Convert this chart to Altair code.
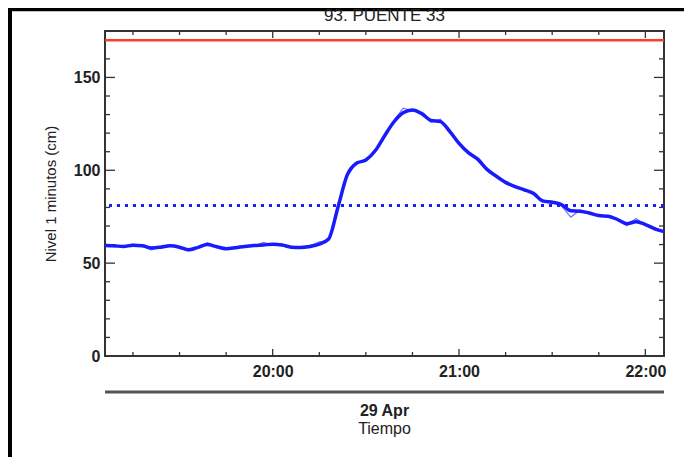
import altair as alt
import pandas as pd

# ---- data (3-minute samples from 19:06) ----
level = [59.5, 59.3, 59.0, 59.6, 59.4, 58.2, 58.6, 59.3, 58.6, 57.2,
         58.5, 60.0, 58.8, 57.8, 58.3, 59.0, 59.5, 59.8, 60.2, 59.8,
         58.6, 58.4, 59.0, 60.3, 63.0, 80.0, 97.5, 103.8, 105.5, 110.5,
         118.5, 126.0, 131.0, 132.5, 130.5, 126.8, 126.2, 121.0, 114.5, 109.5,
         106.0, 100.5, 96.8, 93.5, 91.2, 89.5, 87.5, 83.5, 82.8, 81.5,
         78.2, 78.0, 77.0, 75.6, 75.3, 73.5, 71.2, 72.3, 70.8, 68.5, 67.0]
raw = [60.0, 58.8, 59.4, 60.2, 59.0, 57.2, 59.0, 59.8, 58.0, 56.6,
       58.9, 61.0, 58.4, 57.3, 58.8, 59.5, 59.0, 61.2, 59.7, 60.3,
       58.0, 58.9, 59.5, 61.5, 62.2, 81.5, 96.5, 104.5, 105.0, 111.2,
       118.0, 126.8, 133.5, 132.0, 131.2, 126.0, 127.5, 120.2, 115.2, 109.0,
       106.8, 100.0, 97.4, 92.8, 91.8, 89.0, 88.2, 83.0, 83.4, 80.8,
       74.8, 78.6, 76.4, 76.2, 74.8, 74.0, 70.2, 74.0, 70.3, 69.2, 66.8]
upper_level = [170]
alert_level = [81]

title_text = "93. PUENTE 33"
y_title = "Nivel 1 minutos (cm)"
date_text = "29 Apr"
x_title = "Tiempo"

y_major = [0, 50, 100, 150]
y_minor = [10, 20, 30, 40, 60, 70, 80, 90, 110, 120, 130, 140, 160, 170]
x_major = ["20:00", "21:00", "22:00"]
x_minor = ["19:15", "19:30", "19:45", "20:15", "20:30", "20:45",
           "21:15", "21:30", "21:45"]
day = "2024-04-29"

times = pd.date_range(f"{day} 19:06", periods=len(level), freq="3min").strftime("%Y-%m-%dT%H:%M:%S")
df = pd.DataFrame({"t": list(times), "smooth": level, "raw": raw})

W, H = 559, 325
AX = "#333333"
FONT = "Liberation Sans"

def dt(h, m=0):
    return alt.DateTime(year=2024, month=4, date=29, hours=h, minutes=m)

x_scale = alt.Scale(domain=[dt(19, 6), dt(22, 6)])
y_scale = alt.Scale(domain=[0, 175], nice=False, zero=False)

x_axis = alt.Axis(values=[dt(20), dt(21), dt(22)], format="%H:%M", ticks=False,
                  domain=False, grid=False, labelPadding=7, labelFontSize=16,
                  labelFontWeight="bold", labelColor="#222", labelFont=FONT,
                  labelFlush=False, title=None)
y_axis = alt.Axis(values=y_major, ticks=False, domain=False, grid=False,
                  labelPadding=5, labelFontSize=16, labelFontWeight="bold",
                  labelColor="#222", labelFont=FONT, title=y_title,
                  titleFontSize=15, titleFontWeight="normal", titleColor="#222",
                  titleFont=FONT, titleX=-55, titleY=H / 2, titleAngle=-90,
                  titleAlign="center", titleBaseline="middle")

X = alt.X("t:T", scale=x_scale, axis=x_axis)
Y = lambda f: alt.Y(f"{f}:Q", scale=y_scale, axis=y_axis)

def iso(hm):
    return [f"{day}T{v}:00" for v in hm]

def xticks(vals, y0, y1):
    return alt.Chart(pd.DataFrame({"t": iso(vals)})).mark_rule(
        color=AX, strokeWidth=1.3).encode(x=X, y=alt.value(y0), y2=alt.value(y1))

def yticks(vals, x0, x1):
    return alt.Chart(pd.DataFrame({"v": vals})).mark_rule(
        color=AX, strokeWidth=1.3).encode(y=Y("v"), x=alt.value(x0), x2=alt.value(x1))

one = pd.DataFrame({"s": [""]})

frame_left = alt.Chart(one).mark_rule(color="black", strokeWidth=4).encode(
    x=alt.value(-95), y=alt.value(-23), y2=alt.value(H + 120))
frame_top = alt.Chart(one).mark_rule(color="black", strokeWidth=3.5).encode(
    x=alt.value(-97), x2=alt.value(W + 30), y=alt.value(-21.5))
gray_line = alt.Chart(one).mark_rule(color="#555555", strokeWidth=3).encode(
    x=alt.value(0), x2=alt.value(W), y=alt.value(361))

red = alt.Chart(pd.DataFrame({"v": upper_level})).mark_rule(
    color="#f5402a", strokeWidth=2.5).encode(y=Y("v"))
dotted = alt.Chart(pd.DataFrame({"v": alert_level})).mark_rule(
    color="#1a1aff", strokeWidth=3, strokeDash=[3, 5]).encode(y=Y("v"))

raw_line = alt.Chart(df).mark_line(color="#7070ff", strokeWidth=1.2).encode(x=X, y=Y("raw"))
smooth_line = alt.Chart(df).mark_line(color="#1a1aff", strokeWidth=3.5,
                                      interpolate="monotone").encode(x=X, y=Y("smooth"))

def label(txt, y, size, weight):
    return alt.Chart(pd.DataFrame({"s": [txt]})).mark_text(
        font=FONT, fontSize=size, fontWeight=weight, color="#222",
        align="center", baseline="middle").encode(
        x=alt.value(W / 2), y=alt.value(y), text="s:N")

title_mark = alt.Chart(pd.DataFrame({"s": [title_text]})).mark_text(
    font=FONT, fontSize=17, color="#222", align="center",
    baseline="alphabetic").encode(x=alt.value(W / 2), y=alt.value(-10), text="s:N")

chart = alt.layer(
    frame_left, frame_top, gray_line,
    xticks(x_major, H - 7, H), xticks(x_minor, H - 4, H),
    xticks(x_major, 0, 7), xticks(x_minor, 0, 4),
    yticks(y_major, 0, 10), yticks(y_minor, 0, 5),
    yticks(y_major, W - 10, W), yticks(y_minor, W - 5, W),
    red, dotted, raw_line, smooth_line,
    label(date_text, 380, 16, "bold"), label(x_title, 398, 16, "normal"),
    title_mark,
).properties(
    width=W, height=H,
    padding={"left": 97, "top": 23, "right": 20, "bottom": 101},
    autosize=alt.AutoSizeParams(type="none"),
    background="white",
).configure_view(stroke=AX, strokeWidth=2)

chart.save("out.html", embed_options={"renderer": "svg", "actions": False})
